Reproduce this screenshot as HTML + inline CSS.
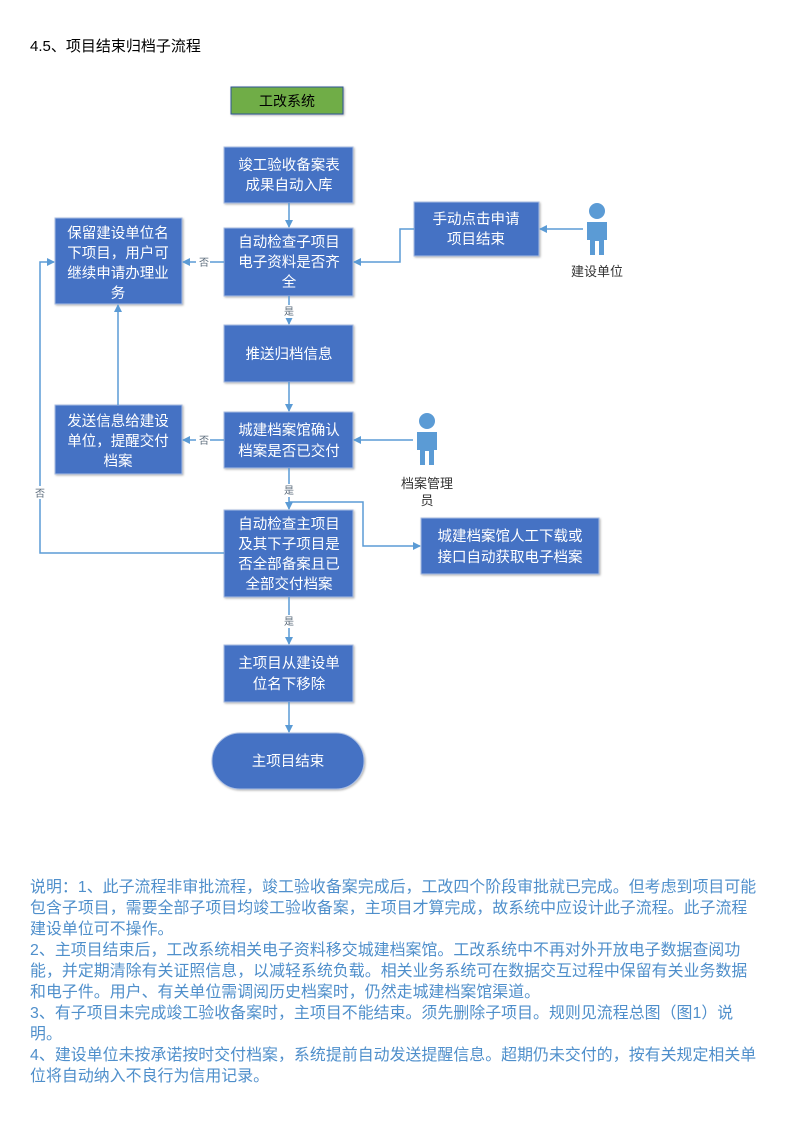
<!DOCTYPE html>
<html><head><meta charset="utf-8"><style>
body{margin:0;background:#fff;}
.p{position:relative;width:792px;height:1121px;overflow:hidden;font-family:"Liberation Sans","Noto Sans CJK SC",sans-serif;}
.t{position:absolute;left:30px;top:35px;font-size:15px;color:#000;}
.d{position:absolute;left:30px;top:877px;width:760px;font-size:15.9px;line-height:21px;color:#4f8fcb;white-space:nowrap;letter-spacing:0.05px;}
</style></head><body><div class="p">
<div class="t">4.5、项目结束归档子流程</div>
<svg width="792" height="860" style="position:absolute;left:0;top:0" font-family="Liberation Sans, Noto Sans CJK SC, sans-serif">
<defs>
<marker id="a" markerWidth="8" markerHeight="8" refX="7" refY="4" orient="auto" markerUnits="userSpaceOnUse"><path d="M0,0 L8,4 L0,8 z" fill="#5b9bd5"/></marker>
<filter id="s"><feDropShadow dx="1" dy="1" stdDeviation="1" flood-color="#000" flood-opacity="0.3"/></filter>
</defs>
<g filter="url(#s)">
<rect x="231" y="87" width="112" height="27" fill="#70ad47" stroke="#2f5597" stroke-width="1"/>
<g fill="#4472c4" stroke="#a9bde3" stroke-width="1">
<rect x="224" y="147" width="129" height="56"/>
<rect x="224" y="228" width="129" height="68"/>
<rect x="55" y="218" width="127" height="86"/>
<rect x="414" y="202" width="125" height="54"/>
<rect x="224" y="325" width="129" height="57"/>
<rect x="224" y="412" width="129" height="56"/>
<rect x="55" y="405" width="127" height="69"/>
<rect x="224" y="510" width="129" height="87"/>
<rect x="421" y="518" width="178" height="56"/>
<rect x="224" y="645" width="129" height="57"/>
<rect x="212" y="733" width="152" height="56" rx="28"/>
</g>
</g>
<g fill="#5b9bd5">
<circle cx="597" cy="211" r="8"/>
<path d="M587,222 h20 v18 h-3 v15 h-5 v-14 h-4 v14 h-5 v-15 h-3 z"/>
<circle cx="427" cy="421" r="8"/>
<path d="M417,432 h20 v18 h-3 v15 h-5 v-14 h-4 v14 h-5 v-15 h-3 z"/>
</g>
<g stroke="#5b9bd5" stroke-width="1.5" fill="none" marker-end="url(#a)">
<path d="M289,203 V227"/>
<path d="M224,262 H183"/>
<path d="M414,229 H400 V262 H354"/>
<path d="M583,229 H540"/>
<path d="M289,296 V324"/>
<path d="M289,382 V411"/>
<path d="M224,440 H183"/>
<path d="M413,440 H354"/>
<path d="M118,405 V305"/>
<path d="M289,468 V509"/>
<path d="M289,502 H363 V546 H420"/>
<path d="M224,553 H40 V262 H54"/>
<path d="M289,597 V644"/>
<path d="M289,702 V732"/>
</g>
<g font-size="10" fill="#5b6b7b" text-anchor="middle">
<rect x="196" y="255" width="14" height="13" fill="#fff"/><text x="204" y="266">否</text>
<rect x="196" y="433" width="14" height="13" fill="#fff"/><text x="204" y="444">否</text>
<rect x="282" y="305" width="14" height="13" fill="#fff"/><text x="289" y="315">是</text>
<rect x="282" y="484" width="14" height="13" fill="#fff"/><text x="289" y="494">是</text>
<rect x="282" y="615" width="14" height="13" fill="#fff"/><text x="289" y="625">是</text>
<rect x="33" y="486" width="14" height="13" fill="#fff"/><text x="40" y="497">否</text>
</g>
<g font-size="13" fill="#333" text-anchor="middle">
<text x="597" y="276">建设单位</text>
<text x="427" y="488">档案管理</text>
<text x="427" y="505">员</text>
</g>
<text x="287" y="106" font-size="14" fill="#000" text-anchor="middle">工改系统</text>
<g font-size="14.5" fill="#fff" text-anchor="middle">
<text x="289" y="170">竣工验收备案表</text><text x="289" y="190">成果自动入库</text>
<text x="289" y="247">自动检查子项目</text><text x="289" y="267">电子资料是否齐</text><text x="289" y="287">全</text>
<text x="118" y="238">保留建设单位名</text><text x="118" y="258">下项目，用户可</text><text x="118" y="278">继续申请办理业</text><text x="118" y="298">务</text>
<text x="476" y="224">手动点击申请</text><text x="476" y="244">项目结束</text>
<text x="289" y="359">推送归档信息</text>
<text x="289" y="435">城建档案馆确认</text><text x="289" y="456">档案是否已交付</text>
<text x="118" y="426">发送信息给建设</text><text x="118" y="446">单位，提醒交付</text><text x="118" y="466">档案</text>
<text x="289" y="529">自动检查主项目</text><text x="289" y="549">及其下子项目是</text><text x="289" y="569">否全部备案且已</text><text x="289" y="589">全部交付档案</text>
<text x="510" y="541">城建档案馆人工下载或</text><text x="510" y="562">接口自动获取电子档案</text>
<text x="289" y="668">主项目从建设单</text><text x="289" y="689">位名下移除</text>
<text x="288" y="766">主项目结束</text>
</g>
</svg>
<div class="d">
说明：1、此子流程非审批流程，竣工验收备案完成后，工改四个阶段审批就已完成。但考虑到项目可能<br>
包含子项目，需要全部子项目均竣工验收备案，主项目才算完成，故系统中应设计此子流程。此子流程<br>
建设单位可不操作。<br>
2、主项目结束后，工改系统相关电子资料移交城建档案馆。工改系统中不再对外开放电子数据查阅功<br>
能，并定期清除有关证照信息，以减轻系统负载。相关业务系统可在数据交互过程中保留有关业务数据<br>
和电子件。用户、有关单位需调阅历史档案时，仍然走城建档案馆渠道。<br>
3、有子项目未完成竣工验收备案时，主项目不能结束。须先删除子项目。规则见流程总图（图1）说<br>
明。<br>
4、建设单位未按承诺按时交付档案，系统提前自动发送提醒信息。超期仍未交付的，按有关规定相关单<br>
位将自动纳入不良行为信用记录。
</div>
</div></body></html>
